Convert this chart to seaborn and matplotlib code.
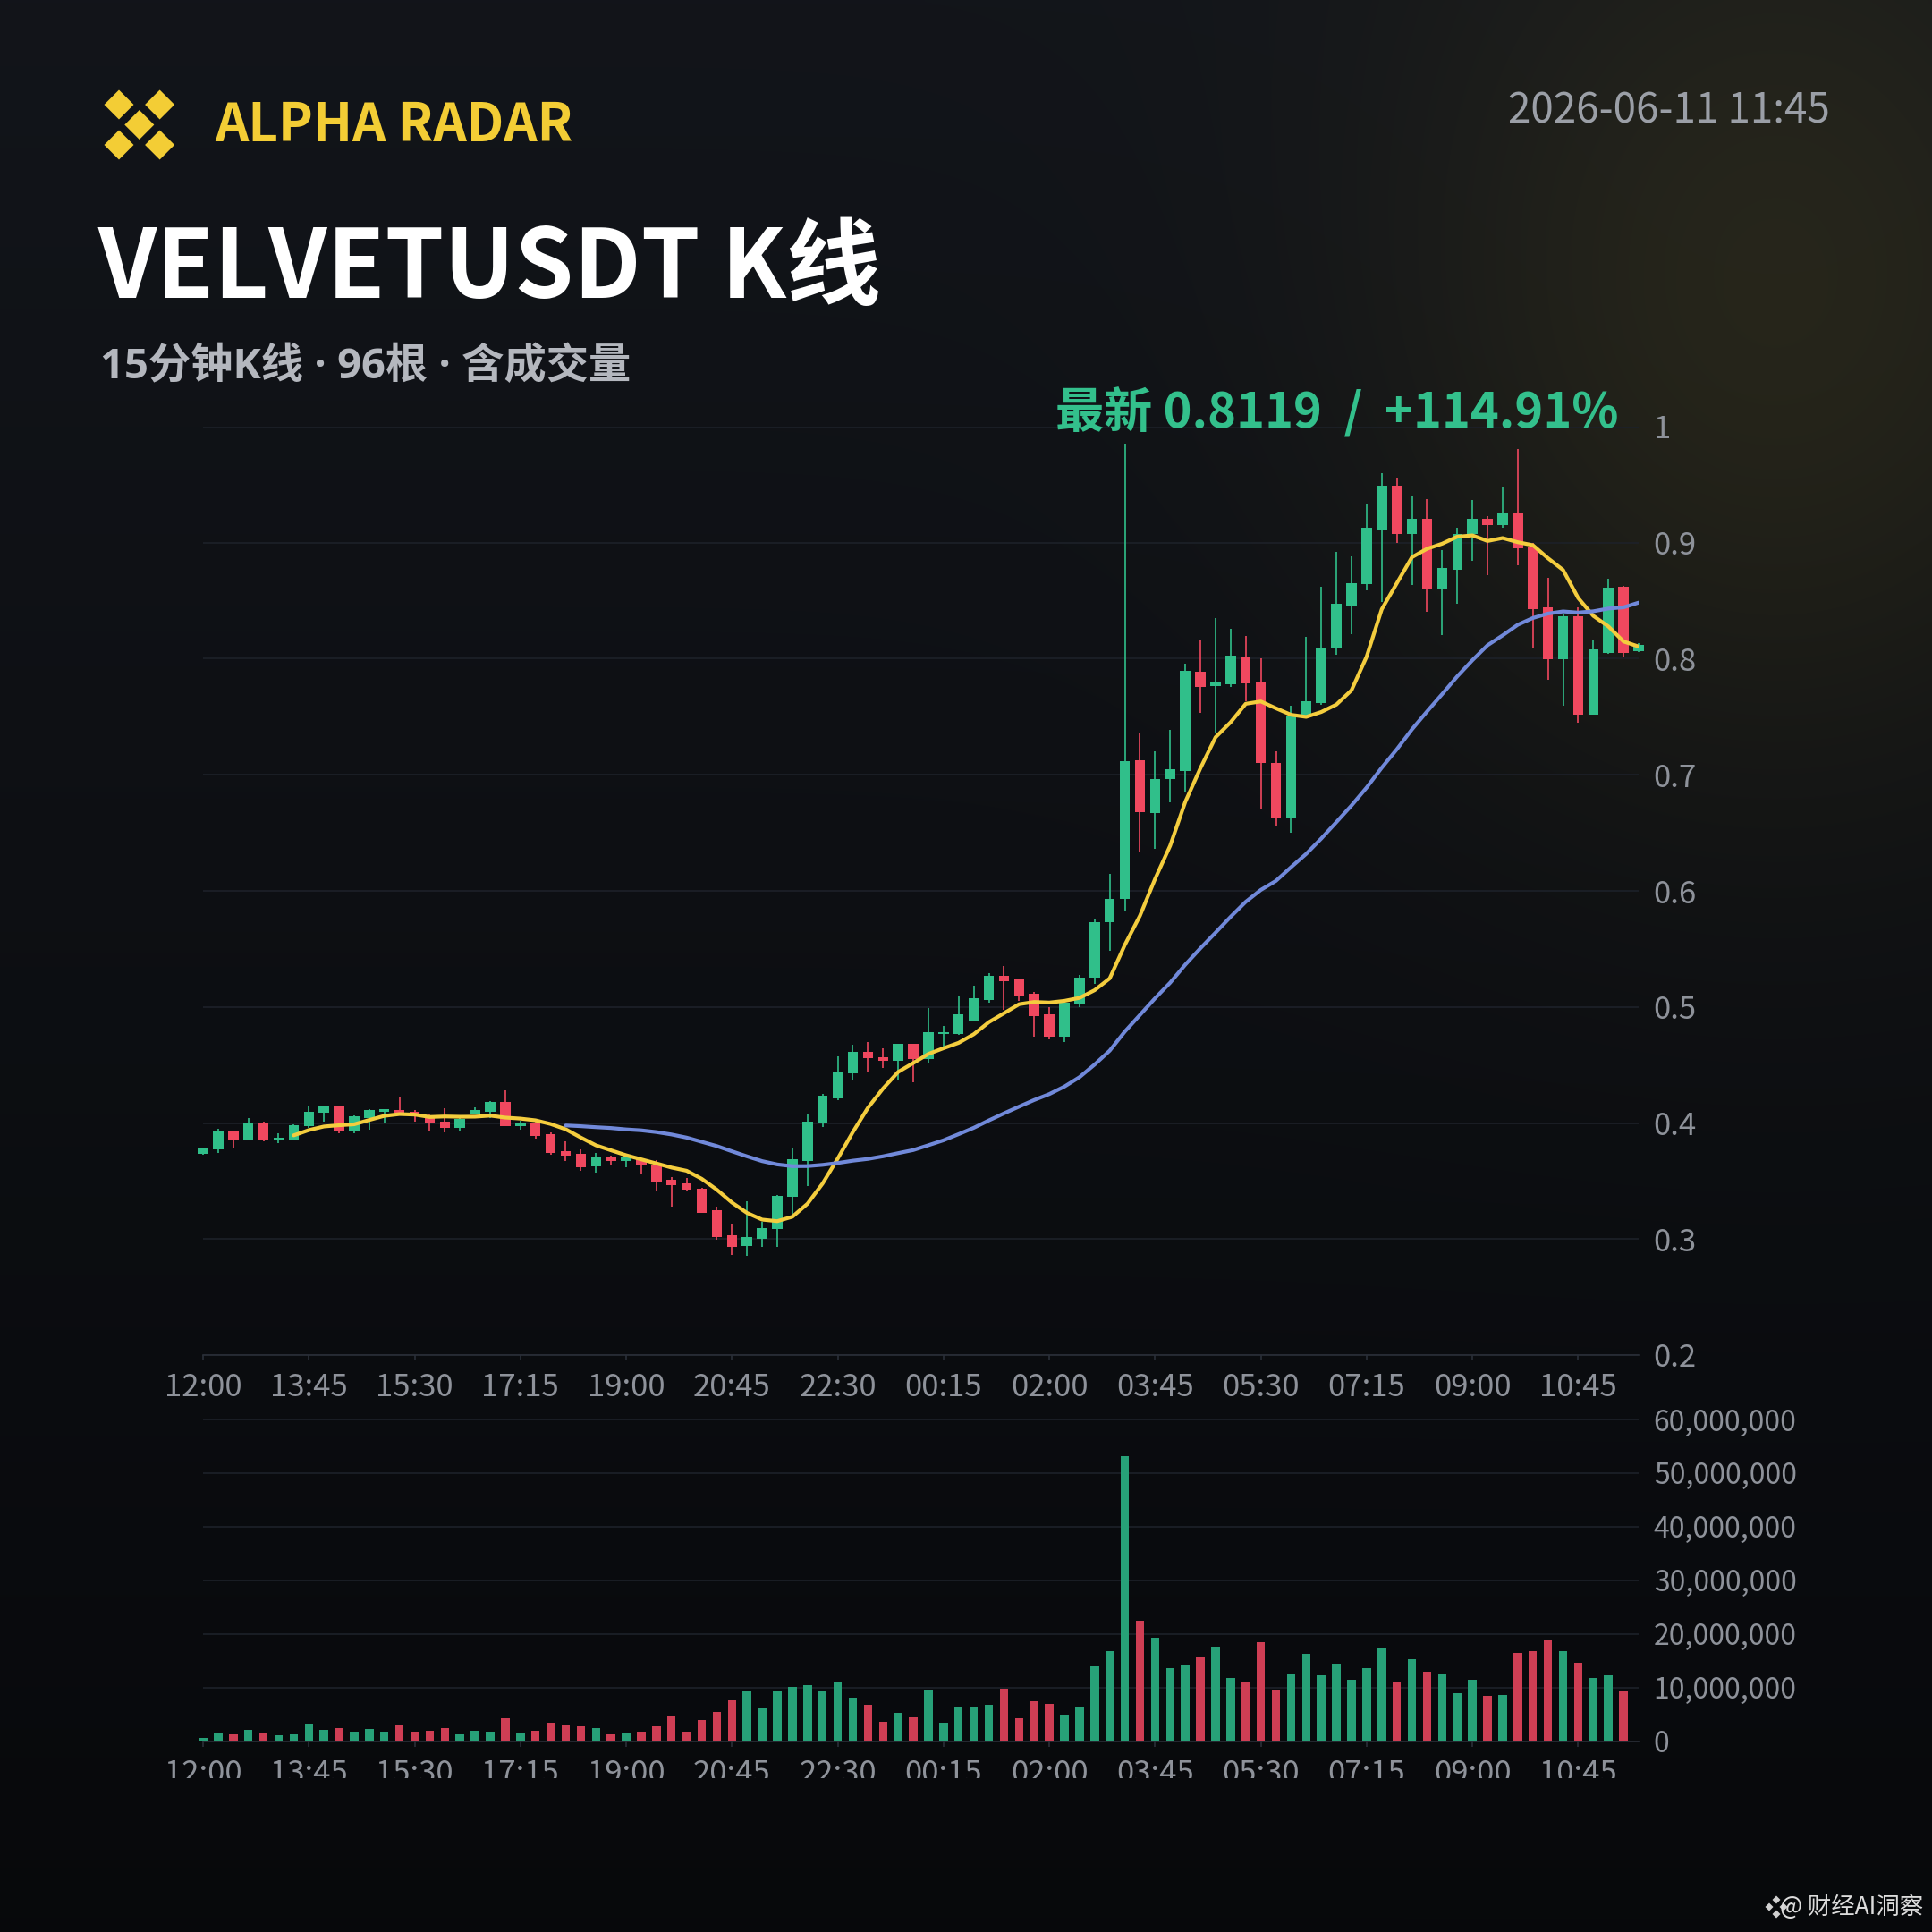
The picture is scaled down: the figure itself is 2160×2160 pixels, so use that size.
# VELVETUSDT 15m candles + volume, dark poster style
import numpy as np
import pandas as pd
import matplotlib
matplotlib.use("Agg")
import matplotlib.pyplot as plt
import seaborn as sns
from matplotlib.patches import Polygon
from matplotlib.ticker import FuncFormatter

sns.set_theme(style="dark")
plt.rcParams['font.family'] = ['Noto Sans CJK SC', 'DejaVu Sans']
plt.rcParams['axes.unicode_minus'] = False

# ------------------------------
# data
# ------------------------------
opens = [0.3735, 0.3776, 0.3923, 0.3853, 0.4000, 0.3858, 0.3860, 0.3972, 0.4085, 0.4141,
         0.3928, 0.4043, 0.4095, 0.4115, 0.4100, 0.4064, 0.4013, 0.3961, 0.4077, 0.4095,
         0.4180, 0.3972, 0.4003, 0.3905, 0.3757, 0.3734, 0.3624, 0.3713, 0.3670, 0.3688,
         0.3636, 0.3508, 0.3483, 0.3437, 0.3245, 0.3030, 0.2938, 0.3004, 0.3086, 0.3363,
         0.3675, 0.4007, 0.4212, 0.4424, 0.4611, 0.4570, 0.4539, 0.4680, 0.4552, 0.4764,
         0.4770, 0.4885, 0.5056, 0.5269, 0.5236, 0.5110, 0.4936, 0.4744, 0.5031, 0.5250,
         0.5727, 0.5927, 0.7126, 0.6669, 0.6963, 0.7036, 0.7888, 0.7764, 0.7781, 0.8021,
         0.7804, 0.7103, 0.6629, 0.7504, 0.7620, 0.8091, 0.8462, 0.8642, 0.9110, 0.9492,
         0.9072, 0.9205, 0.8603, 0.8770, 0.9072, 0.9205, 0.9154, 0.9256, 0.8970, 0.8442,
         0.7997, 0.8365, 0.7520, 0.8053, 0.8621, 0.8066]
highs = [0.3785, 0.3949, 0.3925, 0.4046, 0.4010, 0.3910, 0.3990, 0.4141, 0.4154, 0.4150,
         0.4064, 0.4121, 0.4123, 0.4218, 0.4110, 0.4082, 0.4128, 0.4050, 0.4134, 0.4190,
         0.4280, 0.4020, 0.4010, 0.3920, 0.3840, 0.3775, 0.3739, 0.3720, 0.3713, 0.3695,
         0.3680, 0.3534, 0.3526, 0.3440, 0.3283, 0.3130, 0.3324, 0.3150, 0.3380, 0.3783,
         0.4072, 0.4250, 0.4578, 0.4672, 0.4698, 0.4642, 0.4685, 0.4680, 0.4987, 0.4834,
         0.5095, 0.5180, 0.5294, 0.5353, 0.5236, 0.5128, 0.5000, 0.5038, 0.5274, 0.5760,
         0.6150, 0.9850, 0.7360, 0.7200, 0.7387, 0.7955, 0.8162, 0.8349, 0.8262, 0.8198,
         0.8005, 0.7203, 0.7597, 0.8188, 0.8620, 0.8923, 0.8885, 0.9338, 0.9602, 0.9558,
         0.9397, 0.9379, 0.8936, 0.9128, 0.9371, 0.9230, 0.9481, 0.9806, 0.9000, 0.8698,
         0.8385, 0.8442, 0.8160, 0.8693, 0.8629, 0.8135]
lows = [0.3725, 0.3743, 0.3790, 0.3850, 0.3840, 0.3830, 0.3850, 0.3960, 0.4013, 0.3910,
        0.3910, 0.3943, 0.4000, 0.4080, 0.4013, 0.3930, 0.3920, 0.3930, 0.4070, 0.4040,
        0.3970, 0.3944, 0.3865, 0.3726, 0.3675, 0.3585, 0.3572, 0.3637, 0.3616, 0.3560,
        0.3419, 0.3278, 0.3420, 0.3222, 0.2991, 0.2863, 0.2856, 0.2933, 0.2933, 0.3214,
        0.3457, 0.3968, 0.4200, 0.4365, 0.4432, 0.4475, 0.4373, 0.4347, 0.4514, 0.4662,
        0.4757, 0.4877, 0.5038, 0.4974, 0.5051, 0.4744, 0.4724, 0.4698, 0.5000, 0.5200,
        0.5480, 0.5830, 0.6335, 0.6360, 0.6762, 0.6852, 0.7537, 0.7353, 0.7760, 0.7637,
        0.6709, 0.6552, 0.6502, 0.7500, 0.7600, 0.8032, 0.8212, 0.8590, 0.8488, 0.9000,
        0.8636, 0.8406, 0.8206, 0.8475, 0.8846, 0.8718, 0.9128, 0.8808, 0.8091, 0.7822,
        0.7592, 0.7451, 0.7520, 0.8046, 0.8014, 0.8060]
closes = [0.3778, 0.3923, 0.3853, 0.4000, 0.3846, 0.3871, 0.3982, 0.4095, 0.4141, 0.3928,
          0.4057, 0.4108, 0.4118, 0.4090, 0.4064, 0.3995, 0.3961, 0.4038, 0.4115, 0.4180,
          0.3972, 0.4003, 0.3891, 0.3740, 0.3718, 0.3616, 0.3713, 0.3670, 0.3706, 0.3642,
          0.3496, 0.3467, 0.3424, 0.3227, 0.3014, 0.2933, 0.3014, 0.3094, 0.3375, 0.3688,
          0.4013, 0.4232, 0.4437, 0.4611, 0.4560, 0.4539, 0.4685, 0.4552, 0.4782, 0.4780,
          0.4936, 0.5077, 0.5269, 0.5223, 0.5097, 0.4918, 0.4744, 0.5038, 0.5256, 0.5733,
          0.5934, 0.7120, 0.6675, 0.6963, 0.7046, 0.7898, 0.7761, 0.7800, 0.8028, 0.7788,
          0.7103, 0.6635, 0.7504, 0.7637, 0.8095, 0.8475, 0.8654, 0.9128, 0.9492, 0.9077,
          0.9205, 0.8603, 0.8782, 0.9077, 0.9205, 0.9154, 0.9256, 0.8954, 0.8424, 0.7997,
          0.8365, 0.7515, 0.8078, 0.8616, 0.8048, 0.8119]
# volume in millions
volume_m = [0.6, 1.6, 1.3, 2.1, 1.5, 1.1, 1.3, 3.1, 2.1, 2.4,
            1.7, 2.2, 1.7, 3.0, 1.7, 2.0, 2.4, 1.3, 1.9, 1.7,
            4.3, 1.6, 1.9, 3.4, 2.9, 2.7, 2.5, 1.3, 1.5, 1.7,
            2.7, 4.8, 1.8, 4.0, 5.5, 7.6, 9.4, 6.1, 9.2, 10.1,
            10.4, 9.3, 11.0, 8.1, 6.7, 3.6, 5.2, 4.4, 9.55, 3.5,
            6.3, 6.35, 6.7, 9.7, 4.2, 7.4, 6.85, 4.9, 6.2, 13.9,
            16.85, 53.1, 22.4, 19.2, 13.65, 14.15, 15.85, 17.6, 11.7, 11.1,
            18.4, 9.55, 12.6, 16.3, 12.35, 14.45, 11.5, 13.65, 17.5, 11.1,
            15.3, 12.9, 12.5, 9.0, 11.35, 8.4, 8.55, 16.5, 16.75, 19.0,
            16.85, 14.6, 11.7, 12.2, 9.45, 0.0]

times = pd.date_range("2026-06-10 12:00", periods=96, freq="15min").strftime("%H:%M")
tick_step = 7

title = "VELVETUSDT K线"
subtitle = "15分钟K线 · 96根 · 含成交量"
brand = "ALPHA RADAR"
stamp = "2026-06-11 11:45"
last_label = "最新 0.8119  /  +114.91%"
watermark = "@ 财经AI洞察"

# ------------------------------
# frame
# ------------------------------
df = pd.DataFrame({'o': opens, 'h': highs, 'l': lows, 'c': closes, 'v': np.array(volume_m) * 1e6})
df['i'] = np.arange(len(df))
df['up'] = df['c'] >= df['o']
df['ma7'] = df['c'].rolling(7).mean()
df['ma25'] = df['c'].rolling(25).mean()

GREEN, RED = '#30bf8a', '#f0485f'
VGREEN, VRED = '#27a178', '#cf3e54'
TXT = '#8e929a'
GRID = '#1d2129'

W = 2160
fig = plt.figure(figsize=(10.8, 10.8), dpi=200)
fig.patch.set_facecolor('#0b0e13')

# background gradient with warm glow top right
n = 540
yy, xx = np.mgrid[0:1:n * 1j, 0:1:n * 1j]
top = np.array([0.072, 0.082, 0.102])
bot = np.array([0.030, 0.035, 0.045])
img = top[None, None, :] * (1 - yy[..., None]) + bot[None, None, :] * yy[..., None]
glow = np.exp(-(((xx - 0.92) / 0.20) ** 2 + ((yy - 0.16) / 0.24) ** 2))
img = img + glow[..., None] * np.array([0.085, 0.072, 0.012])[None, None, :]
img = np.clip(img, 0, 1)

bg = fig.add_axes([0, 0, 1, 1], zorder=-10)
bg.imshow(img, extent=(0, W, W, 0), aspect='auto', interpolation='bilinear')
bg.set_xlim(0, W)
bg.set_ylim(W, 0)
bg.axis('off')

# ------------------------------
# price panel
# ------------------------------
ax = fig.add_axes([227 / W, 1 - 1515 / W, 1605 / W, 1038 / W])
ax.set_facecolor('none')

body_lo = df[['o', 'c']].min(axis=1)
body_h = (df['c'] - df['o']).abs().clip(lower=0.0012)
cols = np.where(df['up'], GREEN, RED)

ax.vlines(df['i'], df['l'], df['h'], colors=cols, lw=0.6, zorder=3, clip_on=False)
bars = ax.bar(df['i'], body_h, bottom=body_lo, width=0.68, color=cols, zorder=3, linewidth=0)
for p in bars.patches:
    p.set_clip_on(False)

ma7 = df.dropna(subset=['ma7'])
ma25 = df.dropna(subset=['ma25'])
sns.lineplot(x=ma7['i'], y=ma7['ma7'], ax=ax, color='#f4cd3e', linewidth=1.5, zorder=4)
sns.lineplot(x=ma25['i'], y=ma25['ma25'], ax=ax, color='#7189da', linewidth=1.5, zorder=4)

ax.set_xlim(0, 95)
ax.set_ylim(0.2, 1.0)
ax.set_yticks(np.arange(0.2, 1.01, 0.1))
ax.yaxis.set_major_formatter(FuncFormatter(lambda v, _: '1' if abs(v - 1) < 1e-6 else f'{v:.1f}'))
ax.yaxis.tick_right()
ax.set_xticks(df['i'][::tick_step])
ax.set_xticklabels(times[::tick_step])
ax.set_xlabel('')
ax.set_ylabel('')
ax.grid(False)
ax.yaxis.grid(True, color=GRID, lw=0.6)
for s in ['top', 'left', 'right']:
    ax.spines[s].set_visible(False)
ax.spines['bottom'].set_color('#2a2f38')
ax.spines['bottom'].set_linewidth(0.6)
ax.tick_params(axis='y', length=0, pad=6, labelcolor=TXT, labelsize=12.5)
ax.tick_params(axis='x', length=2, width=0.6, color='#2a2f38', pad=5, labelcolor=TXT, labelsize=12.5,
               bottom=True)

# ------------------------------
# volume panel
# ------------------------------
vax = fig.add_axes([227 / W, 1 - 1946.5 / W, 1605 / W, 359.5 / W])
vax.set_facecolor('none')
vcols = np.where(df['up'], VGREEN, VRED)
vbars = vax.bar(df['i'], df['v'], width=0.56, color=vcols, linewidth=0, zorder=3)
for p in vbars.patches:
    p.set_clip_on(False)
vax.set_xlim(0, 95)
vax.set_ylim(0, 60e6)
vax.set_yticks(np.arange(0, 60e6 + 1, 10e6))
vax.yaxis.set_major_formatter(FuncFormatter(lambda v, _: f'{v:,.0f}'))
vax.yaxis.tick_right()
vax.set_xticks(df['i'][::tick_step])
vax.set_xticklabels(times[::tick_step])
vax.grid(False)
vax.yaxis.grid(True, color=GRID, lw=0.6)
for s in ['top', 'left', 'right']:
    vax.spines[s].set_visible(False)
vax.spines['bottom'].set_color('#2a2f38')
vax.spines['bottom'].set_linewidth(0.6)
vax.tick_params(axis='y', length=0, pad=6, labelcolor=TXT, labelsize=11.5)
vax.tick_params(axis='x', length=2, width=0.6, color='#2a2f38', pad=5, labelcolor=TXT, labelsize=12.5,
                bottom=True)

# ------------------------------
# overlay: header texts, logo, cropped bottom
# ------------------------------
ov = fig.add_axes([0, 0, 1, 1], zorder=20)
ov.set_facecolor('none')
r0 = int(1988 / W * n)
ov.imshow(img[r0:], extent=(0, W, W, r0 * W / n), aspect='auto', interpolation='bilinear')
ov.set_xlim(0, W)
ov.set_ylim(W, 0)
ov.axis('off')

# logo: five diamonds
h = 16.5
for cx, cy in [(133, 117), (178.6, 117), (155.8, 139.5), (133, 162), (178.6, 162)]:
    ov.add_patch(Polygon([(cx, cy - h), (cx + h, cy), (cx, cy + h), (cx - h, cy)],
                         closed=True, color='#f3cd35', lw=0))

ov.text(240, 141, brand, color='#f3cd35', fontsize=21, fontweight='bold', va='center', ha='left')
ov.text(2046, 124, stamp, color='#9b9fa7', fontsize=16.5, va='center', ha='right')
ov.text(110, 302, title, color='#ffffff', fontsize=38, fontweight='bold', va='center', ha='left')
ov.text(112, 411, subtitle, color='#b4b7be', fontsize=17, fontweight='bold', va='center', ha='left',
        family=['Open Sans', 'Noto Sans CJK SC'])
ov.text(1810, 462, last_label, color='#33c08c', fontsize=19.5, fontweight='bold', va='center', ha='right')

# watermark
s = 4.5
for cx, cy in [(1986, 2124), (1986, 2140), (1978, 2132), (1994, 2132)]:
    ov.add_patch(Polygon([(cx, cy - s), (cx + s, cy), (cx, cy + s), (cx - s, cy)],
                         closed=True, color='#d0d0d0', lw=0))
ov.text(2150, 2132, watermark, color='#dcdcdc', fontsize=9.5, va='center', ha='right')

fig.savefig('out.png', dpi=200, facecolor=fig.get_facecolor())
